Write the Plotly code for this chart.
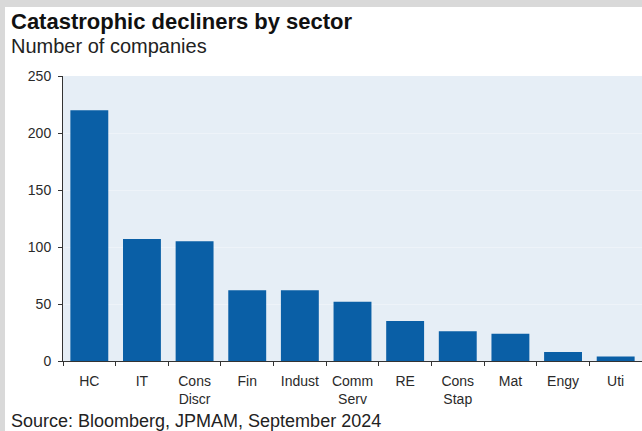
import plotly.graph_objects as go

categories = ["HC", "IT", "Cons<br>Discr", "Fin", "Indust", "Comm<br>Serv", "RE", "Cons<br>Stap", "Mat", "Engy", "Uti"]
values = [220, 107, 105, 62, 62, 52, 35, 26, 24, 8, 4]
y_ticks = [0, 50, 100, 150, 200, 250]

W, H = 642, 431
L, R, T, B = 63, 0, 76, 70
pw, ph = W - L - R, H - T - B

def px_x(px):
    return (px - L) / pw

def px_y(py):
    return (H - B - py) / ph

font = "Liberation Sans, Arial, sans-serif"

fig = go.Figure(go.Bar(x=categories, y=values, marker_color="#0a5fa6", marker_line_width=0, width=0.72))

fig.update_layout(
    width=W, height=H,
    margin=dict(l=L, r=R, t=T, b=B),
    paper_bgcolor="white", plot_bgcolor="#e6eef6",
    font=dict(family=font, size=14, color="#2a2a2a"),
    showlegend=False,
    bargap=0.28,
)
fig.update_yaxes(range=[0, 250], tickvals=y_ticks, ticks="outside", ticklen=4, tickcolor="#333",
                 showline=True, linecolor="#333", linewidth=1, showgrid=True, gridcolor="#eef3f9",
                 zeroline=False, ticklabelstandoff=4, fixedrange=True)
fig.update_xaxes(ticks="outside", tickson="boundaries", ticklen=4, tickcolor="#333",
                 showline=True, linecolor="#333", linewidth=1, showgrid=False,
                 ticklabelstandoff=7)

# grey frame strips (top and left)
fig.add_shape(type="rect", xref="paper", yref="paper", x0=px_x(0), x1=px_x(W), y0=px_y(7), y1=px_y(0),
              fillcolor="#d9d9d9", line_width=0, layer="above")
fig.add_shape(type="rect", xref="paper", yref="paper", x0=px_x(0), x1=px_x(5), y0=px_y(H), y1=px_y(0),
              fillcolor="#d9d9d9", line_width=0, layer="above")

fig.add_annotation(text="<b>Catastrophic decliners by sector</b>", xref="paper", yref="paper",
                   x=px_x(9), y=px_y(21), xanchor="left", yanchor="middle", showarrow=False,
                   font=dict(size=22, color="#111", family=font))
fig.add_annotation(text="Number of companies", xref="paper", yref="paper",
                   x=px_x(9), y=px_y(46), xanchor="left", yanchor="middle", showarrow=False,
                   font=dict(size=20, color="#222", family=font))
fig.add_annotation(text="Source: Bloomberg, JPMAM, September 2024", xref="paper", yref="paper",
                   x=px_x(9), y=px_y(421), xanchor="left", yanchor="middle", showarrow=False,
                   font=dict(size=18, color="#222", family=font))

fig.write_html("out.html", config={"displayModeBar": False})
